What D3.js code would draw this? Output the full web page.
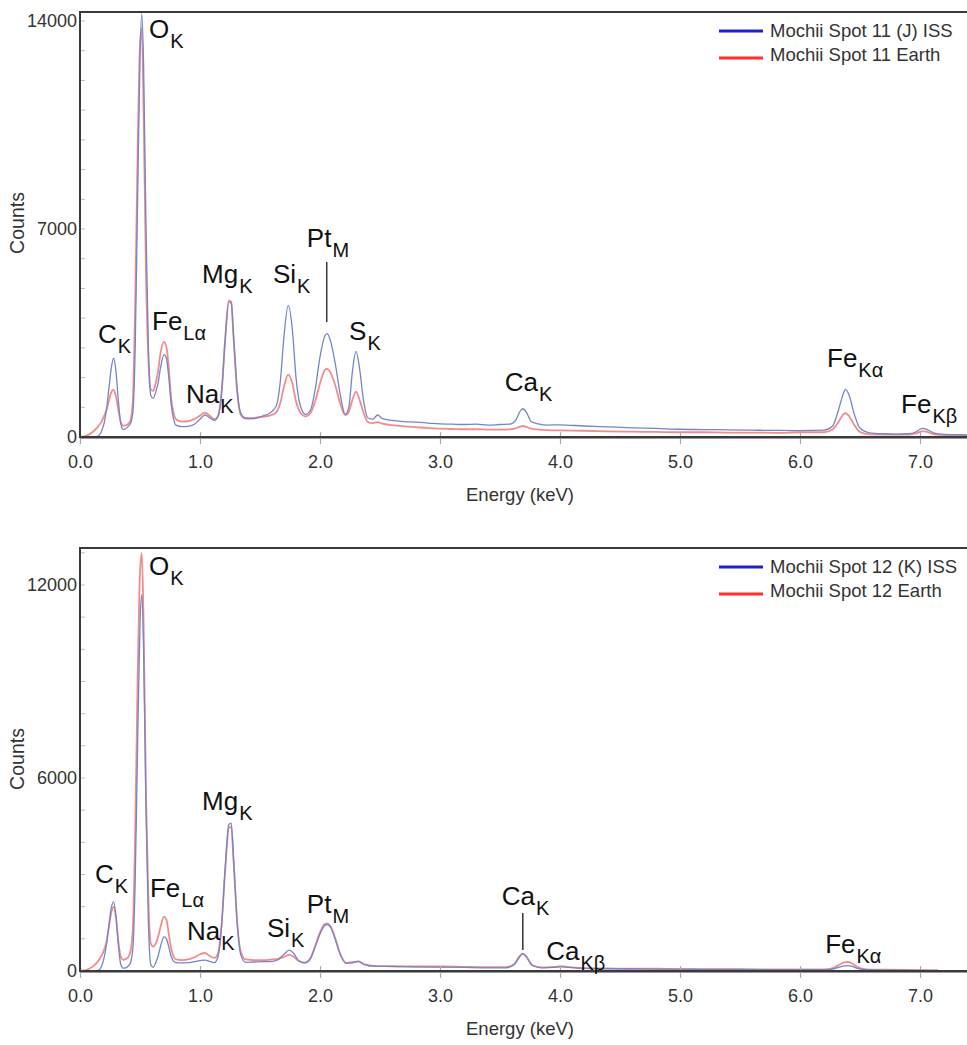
<!DOCTYPE html>
<html>
<head>
<meta charset="utf-8">
<script src="https://cdn.jsdelivr.net/npm/d3@7"></script>
<style>
  html, body { margin: 0; padding: 0; background: #fff; }
  svg { display: block; font-family: "Liberation Sans", Arial, sans-serif; }
</style>
</head>
<body>
<svg id="chart" width="967" height="1045"></svg>
<script>
"use strict";

// ---- data ----
var xTicks = [0, 1, 2, 3, 4, 5, 6, 7];

// panel 1 : Mochii Spot 11
var yTicks1 = [0, 7000, 14000];
var seriesNames1 = ["Mochii Spot 11 (J) ISS", "Mochii Spot 11 Earth"];
var energies1 = [0.00, 0.05, 0.10, 0.15, 0.18, 0.20, 0.22, 0.24, 0.26, 0.28, 0.30, 0.32, 0.34, 0.36, 0.38, 0.40, 0.42, 0.44, 0.46, 0.48, 0.50, 0.515, 0.53, 0.55, 0.57, 0.59, 0.61, 0.63, 0.65, 0.67, 0.70, 0.72, 0.74, 0.76, 0.78, 0.80, 0.85, 0.90, 0.95, 1.00, 1.04, 1.08, 1.12, 1.15, 1.18, 1.21, 1.24, 1.26, 1.28, 1.31, 1.34, 1.38, 1.45, 1.52, 1.58, 1.61, 1.64, 1.67, 1.70, 1.735, 1.77, 1.80, 1.84, 1.88, 1.92, 1.96, 2.00, 2.04, 2.06, 2.09, 2.13, 2.17, 2.21, 2.24, 2.27, 2.30, 2.33, 2.36, 2.40, 2.44, 2.48, 2.52, 2.60, 2.70, 2.80, 2.90, 3.00, 3.10, 3.20, 3.30, 3.40, 3.50, 3.58, 3.63, 3.67, 3.69, 3.72, 3.76, 3.82, 3.90, 4.00, 4.20, 4.40, 4.60, 4.80, 5.00, 5.20, 5.40, 5.60, 5.80, 6.00, 6.20, 6.27, 6.32, 6.36, 6.38, 6.41, 6.45, 6.50, 6.58, 6.70, 6.80, 6.90, 6.96, 7.00, 7.02, 7.06, 7.12, 7.20, 7.30, 7.40];
var issCounts1 = [0, 0, 0, 30, 200, 450, 900, 1600, 2300, 2650, 2200, 1200, 450, 250, 280, 350, 450, 800, 3000, 8000, 12800, 14250, 12500, 7000, 3000, 1400, 1300, 1500, 1800, 2300, 2770, 2650, 2000, 1100, 600, 400, 350, 360, 420, 600, 740, 650, 560, 700, 1500, 3300, 4550, 4500, 3400, 1600, 800, 640, 620, 700, 800, 900, 1100, 1900, 3400, 4430, 3600, 2000, 1000, 760, 900, 1600, 2700, 3400, 3480, 3200, 2400, 1400, 760, 1000, 2200, 2880, 2300, 1300, 640, 600, 740, 620, 560, 520, 500, 470, 440, 430, 420, 430, 400, 420, 430, 560, 880, 950, 830, 520, 440, 400, 410, 370, 340, 310, 290, 260, 250, 240, 230, 220, 215, 230, 360, 900, 1450, 1605, 1400, 800, 300, 140, 110, 100, 110, 160, 260, 290, 250, 130, 90, 80, 70];
var earthCounts1 = [0, 40, 150, 350, 520, 700, 900, 1200, 1500, 1590, 1350, 900, 500, 380, 390, 430, 550, 1200, 4500, 9500, 13200, 13750, 11000, 5500, 2600, 1600, 1550, 1800, 2200, 2800, 3200, 3050, 2300, 1300, 800, 600, 520, 530, 600, 720, 820, 720, 600, 700, 1500, 3300, 4600, 4550, 3300, 1500, 750, 620, 640, 680, 720, 760, 850, 1150, 1700, 2100, 1800, 1200, 800, 690, 800, 1200, 1800, 2250, 2290, 2150, 1700, 1100, 740, 850, 1250, 1530, 1250, 850, 500, 470, 500, 450, 400, 360, 330, 300, 280, 270, 260, 260, 250, 250, 260, 290, 350, 370, 340, 280, 250, 230, 220, 210, 190, 180, 170, 160, 160, 150, 150, 140, 160, 160, 250, 500, 760, 800, 700, 420, 170, 90, 80, 80, 80, 110, 170, 200, 170, 90, 60, 55, 50];
var peakLabels1 = [
  { el: "O",  sub: "K",  energy: 0.575, counts: 13430 },
  { el: "C",  sub: "K",  energy: 0.150, counts: 3160 },
  { el: "Fe", sub: "Lα", energy: 0.600, counts: 3600 },
  { el: "Na", sub: "K",  energy: 0.883, counts: 1145 },
  { el: "Mg", sub: "K",  energy: 1.017, counts: 5180 },
  { el: "Si", sub: "K",  energy: 1.608, counts: 5180 },
  { el: "Pt", sub: "M",  energy: 1.890, counts: 6390 },
  { el: "S",  sub: "K",  energy: 2.242, counts: 3265 },
  { el: "Ca", sub: "K",  energy: 3.540, counts: 1550 },
  { el: "Fe", sub: "Kα", energy: 6.225, counts: 2355 },
  { el: "Fe", sub: "Kβ", energy: 6.842, counts: 808 }
];
// leader line: energy, from counts, to counts
var leaders1 = [{ energy: 2.056, from: 5890, to: 3870 }];

// panel 2 : Mochii Spot 12
var yTicks2 = [0, 6000, 12000];
var seriesNames2 = ["Mochii Spot 12 (K) ISS", "Mochii Spot 12 Earth"];
var energies2 = [0.00, 0.05, 0.10, 0.15, 0.18, 0.20, 0.22, 0.24, 0.26, 0.28, 0.30, 0.32, 0.34, 0.36, 0.38, 0.40, 0.42, 0.44, 0.46, 0.48, 0.50, 0.515, 0.53, 0.55, 0.57, 0.59, 0.61, 0.63, 0.65, 0.67, 0.70, 0.72, 0.74, 0.76, 0.78, 0.80, 0.85, 0.90, 0.95, 1.00, 1.04, 1.08, 1.12, 1.15, 1.18, 1.21, 1.24, 1.26, 1.28, 1.31, 1.34, 1.38, 1.45, 1.52, 1.60, 1.65, 1.70, 1.745, 1.78, 1.82, 1.87, 1.92, 1.96, 2.00, 2.04, 2.06, 2.09, 2.13, 2.17, 2.22, 2.27, 2.32, 2.37, 2.45, 2.60, 2.80, 3.00, 3.20, 3.40, 3.55, 3.62, 3.66, 3.69, 3.72, 3.77, 3.85, 3.95, 4.01, 4.07, 4.20, 4.40, 4.60, 4.80, 5.00, 5.20, 5.40, 5.60, 5.80, 6.00, 6.20, 6.28, 6.33, 6.37, 6.40, 6.43, 6.48, 6.55, 6.70, 6.90, 7.15];
var issCounts2 = [0, 0, 0, 20, 150, 400, 800, 1400, 1950, 2150, 1700, 800, 200, 90, 100, 150, 250, 700, 2800, 7000, 10800, 11700, 10000, 5000, 1500, 200, 110, 250, 450, 750, 1070, 1000, 750, 450, 300, 260, 250, 260, 290, 320, 340, 300, 260, 450, 1400, 3200, 4550, 4600, 3500, 1500, 500, 270, 280, 290, 300, 350, 520, 650, 550, 330, 250, 380, 750, 1150, 1420, 1440, 1350, 950, 500, 240, 260, 300, 200, 150, 140, 130, 120, 110, 100, 100, 200, 420, 530, 430, 170, 100, 110, 130, 110, 80, 70, 70, 60, 60, 50, 50, 50, 40, 40, 40, 70, 120, 160, 170, 150, 80, 40, 30, 30, 20];
var earthCounts2 = [0, 30, 120, 300, 480, 650, 900, 1350, 1800, 2000, 1650, 900, 450, 350, 370, 420, 600, 1300, 4300, 9000, 12400, 13000, 10800, 5500, 2200, 850, 760, 850, 1050, 1350, 1690, 1600, 1150, 700, 450, 360, 340, 360, 420, 520, 560, 470, 410, 550, 1450, 3150, 4450, 4490, 3400, 1500, 600, 360, 340, 340, 360, 380, 440, 500, 440, 320, 260, 400, 780, 1200, 1460, 1480, 1380, 980, 520, 250, 270, 300, 210, 160, 150, 140, 140, 130, 120, 120, 220, 450, 550, 450, 180, 110, 130, 150, 120, 90, 80, 70, 70, 60, 60, 60, 50, 50, 50, 50, 100, 200, 270, 280, 240, 120, 50, 40, 30, 20];
var peakLabels2 = [
  { el: "O",  sub: "K",  energy: 0.575, counts: 12320 },
  { el: "C",  sub: "K",  energy: 0.125, counts: 2740 },
  { el: "Fe", sub: "Lα", energy: 0.583, counts: 2300 },
  { el: "Na", sub: "K",  energy: 0.892, counts: 965 },
  { el: "Mg", sub: "K",  energy: 1.017, counts: 5005 },
  { el: "Si", sub: "K",  energy: 1.558, counts: 1060 },
  { el: "Pt", sub: "M",  energy: 1.890, counts: 1800 },
  { el: "Ca", sub: "K",  energy: 3.515, counts: 2050 },
  { el: "Ca", sub: "Kβ", energy: 3.885, counts: 340 },
  { el: "Fe", sub: "Kα", energy: 6.210, counts: 560 }
];
var leaders2 = [{ energy: 3.69, from: 1800, to: 650 }];

// ---- drawing ----
var ISS_COLOR = "#7486c6";
var EARTH_COLOR = "#f38b8b";
var LEGEND_COLORS = ["#1f1fd0", "#ff2f2f"];
var PLOT_LEFT = 80;
var PLOT_RIGHT = 968;
var FONT = "Liberation Sans, Arial, sans-serif";

var svg = d3.select("#chart");

drawPanel({
  id: "p1", top: 12, axisY: 437, topTickY: 21, yMax: 14000, yTicks: yTicks1, minorStep: 1000,
  energies: energies1, series: [issCounts1, earthCounts1], names: seriesNames1,
  labels: peakLabels1, leaders: leaders1
});
drawPanel({
  id: "p2", top: 548, axisY: 971, topTickY: 585, yMax: 12000, yTicks: yTicks2, minorStep: 1000,
  energies: energies2, series: [issCounts2, earthCounts2], names: seriesNames2,
  labels: peakLabels2, leaders: leaders2
});

function drawPanel(p) {
  var x = d3.scaleLinear().domain([0, 7.4]).range([PLOT_LEFT, PLOT_RIGHT]);
  var y = d3.scaleLinear().domain([0, p.yMax]).range([p.axisY, p.topTickY]);
  var g = svg.append("g").attr("class", "panel " + p.id);

  g.append("clipPath").attr("id", "clip-" + p.id)
    .append("rect")
    .attr("x", PLOT_LEFT).attr("y", p.top)
    .attr("width", PLOT_RIGHT - PLOT_LEFT).attr("height", p.axisY - p.top);

  // minor ticks on the inside of the left axis
  var minor = d3.range(p.minorStep, y.invert(p.top), p.minorStep);
  g.append("g")
    .attr("transform", "translate(" + PLOT_LEFT + ",0)")
    .selectAll("line")
    .data(minor)
    .enter()
    .append("line")
    .attr("x1", 1).attr("x2", 5)
    .attr("y1", function (d) { return y(d); })
    .attr("y2", function (d) { return y(d); })
    .attr("stroke", "#bbb").attr("stroke-width", 1);

  // spectra, Earth under ISS
  var line = d3.line()
    .x(function (d) { return x(d[0]); })
    .y(function (d) { return y(d[1]); })
    .curve(d3.curveMonotoneX);
  var colors = [ISS_COLOR, EARTH_COLOR];
  var widths = [1.3, 1.8];
  [1, 0].forEach(function (s) {
    g.append("path")
      .datum(d3.zip(p.energies, p.series[s]))
      .attr("clip-path", "url(#clip-" + p.id + ")")
      .attr("fill", "none")
      .attr("stroke", colors[s])
      .attr("stroke-width", widths[s])
      .attr("stroke-linejoin", "round")
      .attr("d", line);
  });

  // x axis
  var xAxis = g.append("g")
    .attr("transform", "translate(0," + p.axisY + ")")
    .call(d3.axisBottom(x).tickValues(xTicks).tickFormat(d3.format(".1f")).tickSize(7).tickPadding(11));
  xAxis.select(".domain").remove();
  xAxis.selectAll(".tick line").attr("y1", -5).attr("stroke", "#aaa").attr("stroke-width", 1.2);
  xAxis.selectAll(".tick text")
    .attr("fill", "#333").attr("font-size", 18).attr("font-family", FONT);

  // y axis labels
  var yAxis = g.append("g")
    .attr("transform", "translate(" + (PLOT_LEFT - 1) + ",0)")
    .call(d3.axisLeft(y).tickValues(p.yTicks).tickFormat(d3.format("d")).tickSize(0).tickPadding(2));
  yAxis.select(".domain").remove();
  yAxis.selectAll(".tick text")
    .attr("fill", "#333").attr("font-size", 18).attr("font-family", FONT);

  // frame: top, left, bottom
  g.append("path")
    .attr("d", "M" + PLOT_RIGHT + "," + p.top + "H" + PLOT_LEFT + "V" + p.axisY + "H" + PLOT_RIGHT)
    .attr("fill", "none").attr("stroke", "#3a3a3a").attr("stroke-width", 2);
  g.append("line")
    .attr("x1", PLOT_LEFT).attr("x2", PLOT_RIGHT)
    .attr("y1", p.axisY + 1.5).attr("y2", p.axisY + 1.5)
    .attr("stroke", "#999").attr("stroke-width", 1);

  // axis titles
  g.append("text")
    .attr("x", 520).attr("y", p.axisY + 64)
    .attr("text-anchor", "middle").attr("font-size", 18.5).attr("fill", "#333")
    .text("Energy (keV)");
  g.append("text")
    .attr("transform", "translate(24," + (p.top + 211) + ") rotate(-90)")
    .attr("text-anchor", "middle").attr("font-size", 19.5).attr("fill", "#333")
    .text("Counts");

  // legend
  var legend = g.append("g").attr("transform", "translate(719," + (p.top + 19) + ")");
  p.names.forEach(function (name, i) {
    legend.append("line")
      .attr("x1", 0).attr("x2", 44)
      .attr("y1", i * 24 + (i ? 3 : 0)).attr("y2", i * 24 + (i ? 3 : 0))
      .attr("stroke", LEGEND_COLORS[i]).attr("stroke-width", 3);
    legend.append("text")
      .attr("x", 51).attr("y", i * 24 + 6)
      .attr("font-size", 18.5).attr("fill", "#333")
      .text(name);
  });

  // peak labels with subscripts
  var labels = g.selectAll("text.peak")
    .data(p.labels)
    .enter()
    .append("text")
    .attr("class", "peak")
    .attr("x", function (d) { return x(d.energy); })
    .attr("y", function (d) { return y(d.counts); })
    .attr("font-size", 26)
    .attr("fill", "#111");
  labels.append("tspan").text(function (d) { return d.el; });
  labels.append("tspan")
    .attr("font-size", 20)
    .attr("dy", 10)
    .attr("dx", 1)
    .text(function (d) { return d.sub; });

  g.selectAll("line.leader")
    .data(p.leaders)
    .enter()
    .append("line")
    .attr("class", "leader")
    .attr("x1", function (d) { return x(d.energy); })
    .attr("x2", function (d) { return x(d.energy); })
    .attr("y1", function (d) { return y(d.from); })
    .attr("y2", function (d) { return y(d.to); })
    .attr("stroke", "#333").attr("stroke-width", 1.5);
}
</script>
</body>
</html>
